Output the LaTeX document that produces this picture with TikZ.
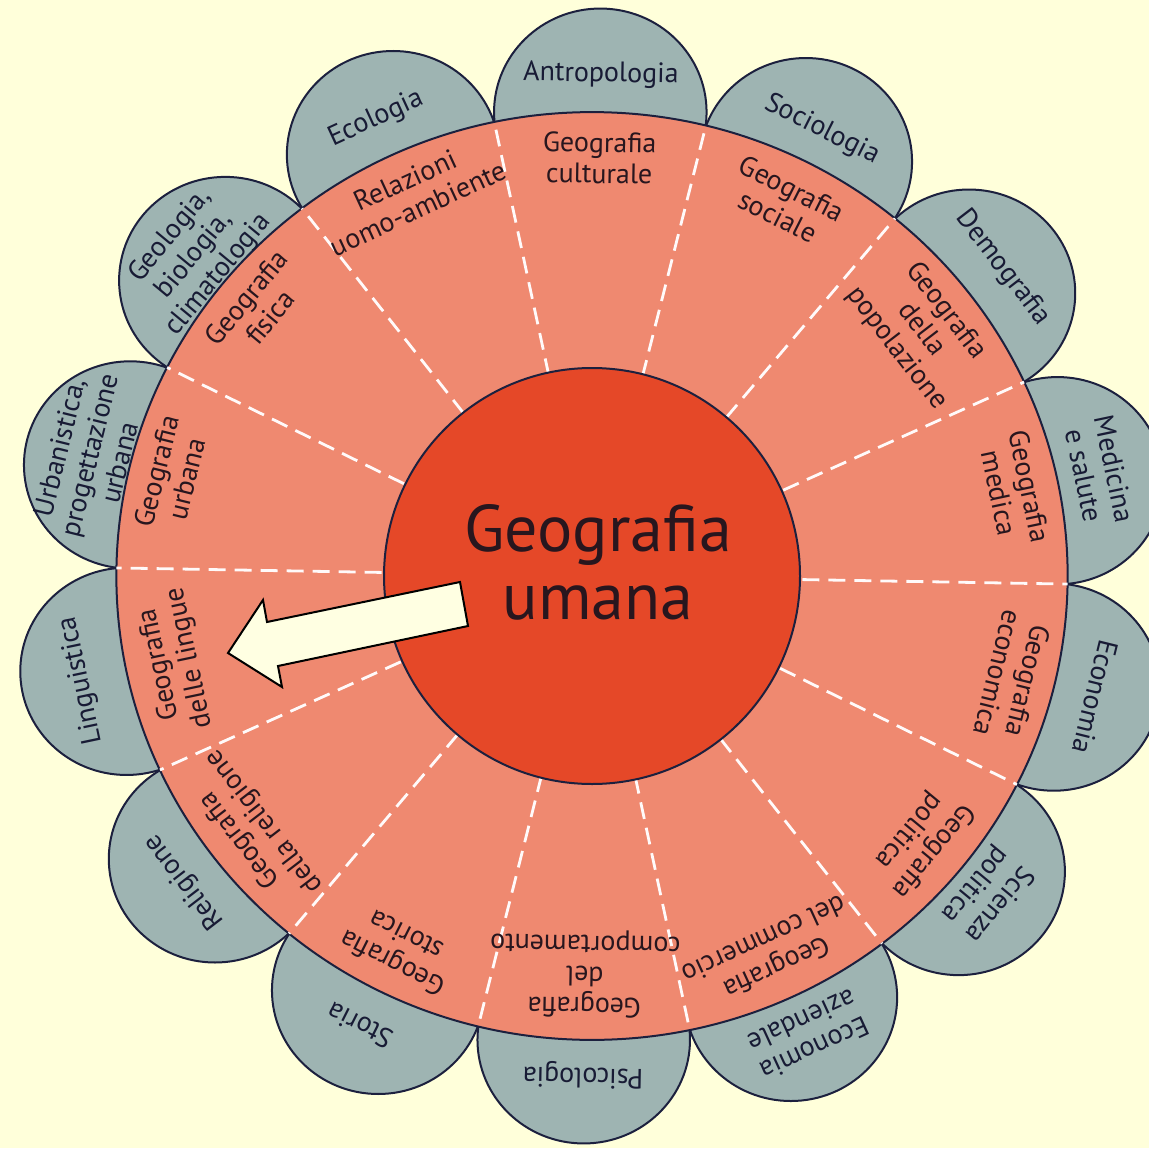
\documentclass[tikz,border=0pt]{standalone}
\usepackage{fontspec}
\setmainfont{PT Sans}
\usepackage{tikz}
\usetikzlibrary{positioning}

\definecolor{paper}{RGB}{255,255,218}
\definecolor{petalgray}{RGB}{158,180,178}
\definecolor{ringsalmon}{RGB}{239,137,112}
\definecolor{hubred}{RGB}{229,72,40}
\definecolor{inkblue}{RGB}{28,32,62}
\definecolor{inktext}{RGB}{40,22,30}
\definecolor{pointercream}{RGB}{255,255,226}

\tikzset{
  petal/.style={draw=inkblue, line width=1pt, fill=petalgray},
  ring/.style={draw=inkblue, line width=1pt, fill=ringsalmon},
  sectorline/.style={draw=white!92!pink, line width=1.4pt, dash pattern=on 8.5pt off 4.5pt},
  hub/.style={circle, draw=inkblue, line width=1pt, fill=hubred, minimum size=208pt, inner sep=0pt},
  hubtext/.style={align=center, text=inktext, inner sep=0pt, font=\fontsize{33}{34}\selectfont},
  branch/.style={font=\fontsize{14}{15.5}\selectfont, text=inktext, align=center,
    inner sep=0pt, anchor=north, rotate=#1-90},
  field/.style={font=\fontsize{14}{15.5}\selectfont, text=inkblue!85!black, align=center,
    inner sep=0pt, rotate=#1-90},
  pointer/.style={draw=black, line width=1pt, fill=pointercream, line join=miter}
}

\begin{document}
\begin{tikzpicture}[x=0.5pt,y=0.5pt]
\useasboundingbox (0,0) rectangle (1149,1148);
\fill[paper] (0,0) rectangle (1149,1148);
\clip (0,0) rectangle (1149,1148);

\begin{scope}[shift={(592,572)},xscale=1.012,yscale=0.987]
% petals behind the ring
\foreach \k in {0,...,13}
  \draw[petal] ({89-25.714*\k}:470) circle (105);
\draw[ring] (0,0) circle (470);
\foreach \k in {0,...,13}
  \draw[sectorline] ({101.857-25.714*\k}:208) -- ({101.857-25.714*\k}:470);
\node (hub) [hub] at (0,0) {};
\node (umana) [hubtext] at (6,14) {Geografia\\umana};

\node (culturale) [branch=89] at (89:450) {Geografia\\culturale};
\node (sociale) [branch=63.29] at (63.29:450) {Geografia\\sociale};
\node (popolazione) [branch=37.57] at (37.57:454) {Geografia\\della\\popolazione};
\node (medica) [branch=11.86] at (11.86:452) {Geografia\\medica};
\node (economica) [branch=-13.86] at (-13.86:454) {Geografia\\economica};
\node (politica) [branch=-39.57] at (-39.57:450) {Geografia\\politica};
\node (commercio) [branch=-65.29] at (-65.29:448) {Geografia\\del commercio};
\node (comportamento) [branch=-91] at (-91:448) {Geografia\\del\\comportamento};
\node (storica) [branch=-116.71] at (-116.71:450) {Geografia\\storica};
\node (religione) [branch=-142.43] at (-142.43:452) {Geografia\\della religione};
\node (lingue) [branch=-168.14] at (-168.14:450) {Geografia\\delle lingue};
\node (urbana) [branch=166.14] at (166.14:454) {Geografia\\urbana};
\node (fisica) [branch=140.43] at (140.43:454) {Geografia\\fisica};
\node (ambiente) [branch=114.71] at (114.71:452) {Relazioni\\uomo-ambiente};

\node (antropologia) [field=89] at (89:508) {Antropologia};
\node (sociologia) [field=63.29] at (63.29:506) {Sociologia};
\node (demografia) [field=37.57] at (37.57:512) {Demografia};
\node (medicina) [field=11.86] at (11.86:512) {Medicina\\e salute};
\node (economia) [field=-13.86] at (-13.86:512) {Economia};
\node (scienzapol) [field=-39.57] at (-39.57:506) {Scienza\\politica};
\node (aziendale) [field=-65.29] at (-65.29:512) {Economia\\aziendale};
\node (psicologia) [field=-91] at (-91:506) {Psicologia};
\node (storia) [field=-116.71] at (-116.71:510) {Storia};
\node (religioni) [field=-142.43] at (-142.43:508) {Religione};
\node (linguistica) [field=-168.14] at (-168.14:516) {Linguistica};
\node (urbanistica) [field=166.14] at (166.14:512) {Urbanistica,\\progettazione\\urbana};
\node (geologia) [field=140.43] at (140.43:510) {Geologia,\\biologia,\\climatologia};
\node (ecologia) [field=114.71] at (114.71:510) {Ecologia};
\end{scope}

% big arrow towards the languages
\draw[pointer] (460,566) -- (267,526) -- (263,548) -- (228,495) -- (282,461) -- (278,482) -- (468,522) -- cycle;
\end{tikzpicture}
\end{document}
